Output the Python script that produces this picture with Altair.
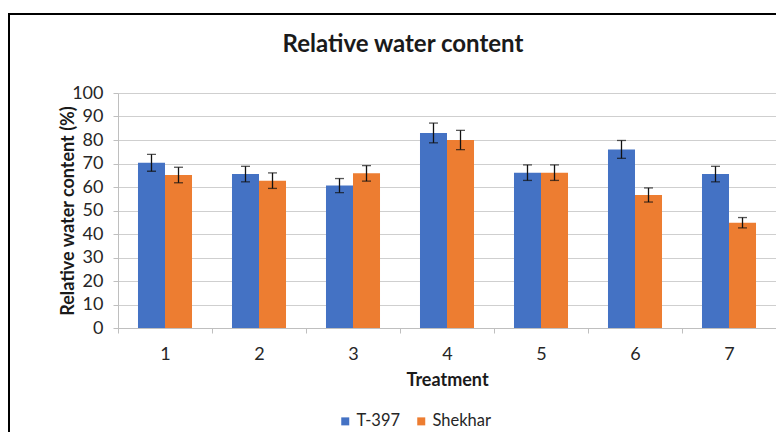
import altair as alt
import pandas as pd

treatments = ["1", "2", "3", "4", "5", "6", "7"]
series = ["T-397", "Shekhar"]
t397 = [70.3, 65.5, 60.6, 83.0, 66.1, 76.0, 65.5]
t397_err = [3.6, 3.3, 3.0, 4.2, 3.3, 3.8, 3.3]
shekhar = [65.1, 62.7, 65.8, 80.0, 66.1, 56.6, 44.8]
shekhar_err = [3.3, 3.3, 3.3, 4.1, 3.3, 3.0, 2.2]
y_ticks = [0, 10, 20, 30, 40, 50, 60, 70, 80, 90, 100]
colors = ["#4472C4", "#ED7D31"]
title_text = "Relative water content"

rows = []
for i, t in enumerate(treatments):
    rows.append({"Treatment": t, "Series": series[0], "value": t397[i], "err": t397_err[i]})
    rows.append({"Treatment": t, "Series": series[1], "value": shekhar[i], "err": shekhar_err[i]})
df = pd.DataFrame(rows)

FONT = "Lato"

x_axis = alt.Axis(
    title="Treatment", labelAngle=0, tickBand="extent", labelPadding=12,
    labelFontSize=18, labelColor="#262626", labelFont=FONT,
    titleFont=FONT, titleFontSize=18, titleFontWeight="bold", titleColor="#1a1a1a",
    titlePadding=8, domainColor="#bfbfbf", tickColor="#bfbfbf", tickSize=5,
    grid=False,
)
x_scale = alt.Scale(paddingInner=0, paddingOuter=0)
y_axis = alt.Axis(
    title="Relative water content (%)", values=y_ticks, labelOverlap=False,
    labelFontSize=18, labelColor="#262626", labelFont=FONT, labelPadding=10,
    titleFont=FONT, titleFontSize=18, titleFontWeight="bold", titleColor="#1a1a1a",
    titlePadding=-6, domainColor="#bfbfbf", tickColor="#bfbfbf", tickSize=5,
    gridColor="#cfcfcf", gridWidth=1.2,
)
y_scale = alt.Scale(domain=[0, 100])

x = alt.X("Treatment:N", sort=treatments, scale=x_scale, axis=x_axis)
xoff = alt.XOffset("Series:N", sort=series, scale=alt.Scale(paddingInner=0, paddingOuter=0.74))

base = alt.Chart(df)

bars = base.mark_bar().encode(
    x=x, xOffset=xoff,
    y=alt.Y("value:Q", scale=y_scale, axis=y_axis),
    color=alt.Color(
        "Series:N", sort=series,
        scale=alt.Scale(domain=series, range=colors),
        legend=alt.Legend(
            title=None, orient="none", direction="horizontal",
            legendX=219, legendY=320, symbolType="square", symbolSize=64,
            symbolStrokeWidth=0, labelFontSize=16.5, labelFont=FONT, labelColor="#262626",
            columnPadding=12, labelOffset=3,
        ),
    ),
)

err = base.transform_calculate(
    lo="datum.value - datum.err", hi="datum.value + datum.err"
)
rules = err.mark_rule(color="#111111", strokeWidth=1.3).encode(
    x=x, xOffset=xoff, y=alt.Y("lo:Q", scale=y_scale, axis=y_axis), y2="hi:Q",
)
cap_lo = err.mark_tick(color="#111111", thickness=1.3, size=9, orient="horizontal").encode(
    x=x, xOffset=xoff, y=alt.Y("lo:Q", scale=y_scale, axis=y_axis),
)
cap_hi = err.mark_tick(color="#111111", thickness=1.3, size=9, orient="horizontal").encode(
    x=x, xOffset=xoff, y=alt.Y("hi:Q", scale=y_scale, axis=y_axis),
)

one = pd.DataFrame({"a": [0]})
frame = alt.Chart(one).mark_rect(
    fill=None, stroke="#000000", strokeWidth=2
).encode(
    x=alt.value(-109), x2=alt.value(680), y=alt.value(-79), y2=alt.value(360)
)
title = alt.Chart(one).mark_text(
    font=FONT, fontSize=24, fontWeight="bold", color="#1a1a1a",
    align="center", baseline="alphabetic",
).encode(
    x=alt.value(285), y=alt.value(-41), text=alt.value(title_text)
)

chart = alt.layer(bars, rules, cap_lo, cap_hi, frame, title).properties(
    width=658, height=235,
    autosize=alt.AutoSizeParams(type="none"),
    padding={"left": 110, "top": 85, "right": 0, "bottom": 104},
).configure_view(stroke=None)

chart.save("out.html", embed_options={"renderer": "svg", "actions": False})
